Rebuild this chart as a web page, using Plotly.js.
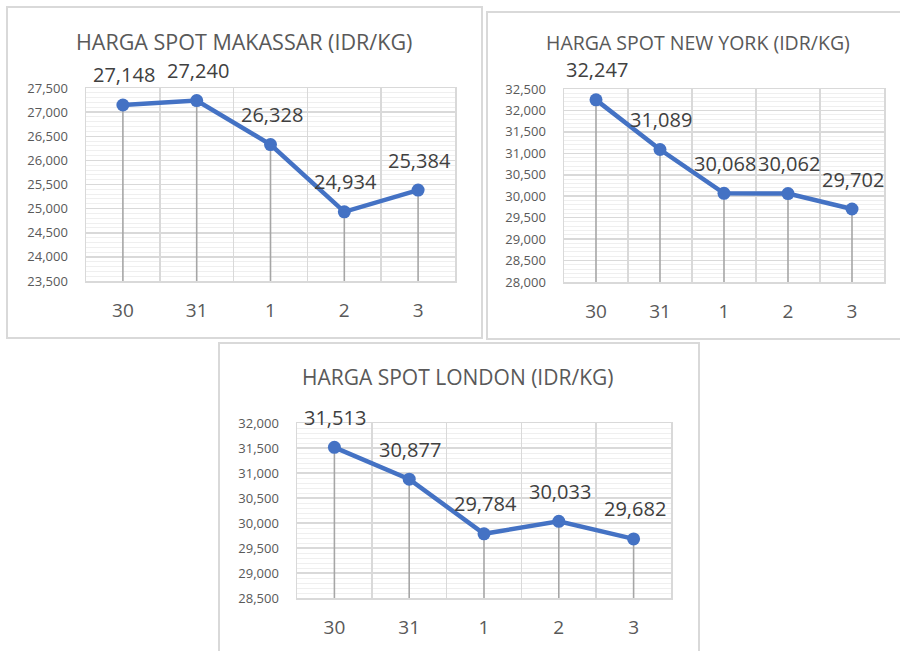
<!DOCTYPE html>
<html>
<head>
<meta charset="utf-8">
<script src="https://cdn.plot.ly/plotly-3.0.1.min.js"></script>
<style>html,body{margin:0;padding:0;background:#fff;}#chart{width:900px;height:651px;}</style>
</head>
<body>
<div id="chart"></div>
<script>
// ---- data ----
const days = ['30', '31', '1', '2', '3'];
const makassar = [27148, 27240, 26328, 24934, 25384];
const newYork = [32247, 31089, 30068, 30062, 29702];
const london = [31513, 30877, 29784, 30033, 29682];
const titles = ['HARGA SPOT MAKASSAR (IDR/KG)', 'HARGA SPOT NEW YORK (IDR/KG)', 'HARGA SPOT LONDON (IDR/KG)'];
const yRanges = [[23500, 27500], [28000, 32500], [28500, 32000]];

// ---- layout geometry (pixels) ----
const W = 900, H = 651;
const panels = [
  {vals: makassar, plot: [86, 455, 88, 281], box: [7, 482, 7, 338], title: [244, 42, 21.5]},
  {vals: newYork, plot: [564, 884, 89, 282], box: [487, 905, 12, 339], title: [698, 43, 19.5]},
  {vals: london, plot: [297, 671, 423, 598], box: [219, 699, 343, 660], title: [458, 377, 21]}
];

const FONT = 'Open Sans, Lato, sans-serif';
const lineColor = '#4472C4';
const traces = [];
const annotations = [];
const shapes = [];
const layout = {
  width: W, height: H,
  margin: {l: 0, r: 0, t: 0, b: 0},
  paper_bgcolor: '#ffffff', plot_bgcolor: '#ffffff',
  showlegend: false,
  font: {family: FONT, color: '#595959'}
};

panels.forEach((p, i) => {
  const n = i === 0 ? '' : String(i + 1);
  const xa = 'x' + n, ya = 'y' + n;
  const [yMin, yMax] = yRanges[i];
  const [l, r, t, b] = p.plot;
  // drop lines (error bars from the point down to the axis minimum)
  traces.push({
    type: 'scatter', mode: 'markers', x: days, y: p.vals, xaxis: xa, yaxis: ya,
    marker: {size: 1, opacity: 0}, hoverinfo: 'skip',
    error_y: {type: 'data', symmetric: false, array: p.vals.map(() => 0),
              arrayminus: p.vals.map(v => v - yMin), width: 0, thickness: 1.6, color: '#a6a6a6'}
  });
  traces.push({
    type: 'scatter', mode: 'lines+markers', x: days, y: p.vals, xaxis: xa, yaxis: ya,
    line: {color: lineColor, width: 4.5},
    marker: {color: lineColor, size: 13}
  });
  layout['xaxis' + n] = {
    domain: [l / W, r / W], anchor: ya, type: 'category', range: [-0.5, 4.5],
    tickson: 'boundaries', showgrid: true, gridcolor: '#d9d9d9', gridwidth: 1.5,
    showline: true, mirror: true, linecolor: '#d9d9d9', linewidth: 1.5,
    ticks: '', ticklabelstandoff: 12,
    tickfont: {family: FONT, size: 19, color: '#595959'}, fixedrange: true
  };
  layout['yaxis' + n] = {
    domain: [1 - b / H, 1 - t / H], anchor: xa, range: [yMin, yMax],
    dtick: 500, tick0: 0, tickformat: ',d',
    showgrid: true, gridcolor: '#d9d9d9', gridwidth: 1.5,
    minor: {dtick: 100, showgrid: true, gridcolor: '#efefef', gridwidth: 1},
    showline: true, mirror: true, linecolor: '#d9d9d9', linewidth: 1.5,
    zeroline: false, ticks: '', ticklabelstandoff: 14,
    tickfont: {family: FONT, size: 13, color: '#595959'}, fixedrange: true
  };
  // data labels (x given as category index)
  p.vals.forEach((v, k) => {
    annotations.push({
      xref: xa, yref: ya, x: k, y: v, text: v.toLocaleString('en-US'),
      showarrow: false, yshift: 30, xshift: 1,
      font: {family: FONT, size: 20, color: '#404040'}
    });
  });
  // chart title
  annotations.push({
    xref: 'paper', yref: 'paper', x: p.title[0] / W, y: 1 - p.title[1] / H,
    xanchor: 'center', yanchor: 'middle', showarrow: false, text: titles[i],
    font: {family: FONT, size: p.title[2], color: '#595959'}
  });
  // chart frame
  shapes.push({
    type: 'rect', xref: 'paper', yref: 'paper', layer: 'below',
    x0: p.box[0] / W, x1: p.box[1] / W, y0: 1 - p.box[3] / H, y1: 1 - p.box[2] / H,
    line: {color: '#d9d9d9', width: 2}, fillcolor: 'rgba(0,0,0,0)'
  });
});
layout.annotations = annotations;
layout.shapes = shapes;

Plotly.newPlot('chart', traces, layout, {displayModeBar: false, staticPlot: true});
</script>
</body>
</html>
